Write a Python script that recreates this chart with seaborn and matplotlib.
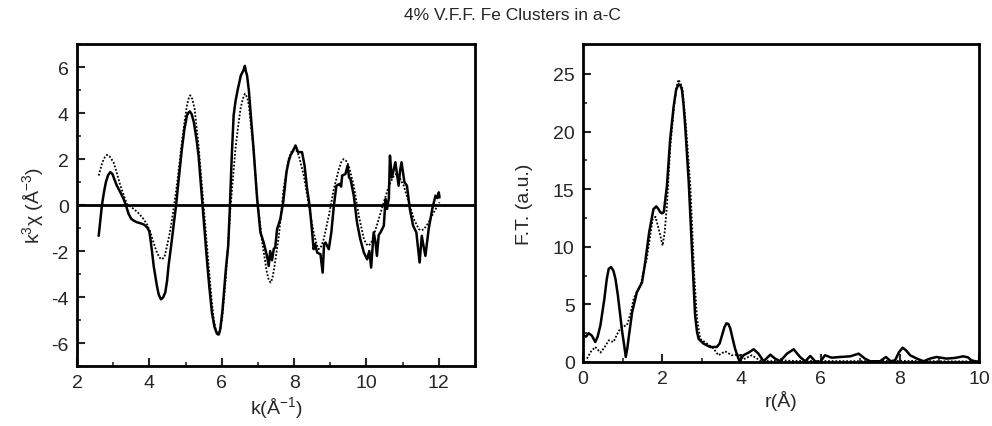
import numpy as np
import pandas as pd
import matplotlib
matplotlib.use("Agg")
import matplotlib.pyplot as plt
from matplotlib.ticker import MultipleLocator
import seaborn as sns

# left panel: k^3 chi(k), experiment (solid) and fit (dotted)
k_exp = [2.6, 2.65, 2.69, 2.75, 2.8, 2.86, 2.92, 2.98, 3.05, 3.1, 3.2, 3.29, 3.36, 3.43, 3.5, 3.57,
         3.66, 3.75, 3.85, 3.94, 4.0, 4.03, 4.08, 4.12, 4.17, 4.21, 4.26, 4.32, 4.38,
         4.44, 4.49, 4.53, 4.6, 4.67, 4.74, 4.82, 4.9, 4.97, 5.04, 5.08, 5.12, 5.17, 5.23, 5.3,
         5.36, 5.47, 5.59, 5.66, 5.73, 5.8, 5.87, 5.92, 5.96,
         6.02, 6.07, 6.12, 6.18, 6.22, 6.28, 6.33, 6.38, 6.44, 6.53, 6.6, 6.64, 6.67, 6.7, 6.75,
         6.79, 6.88, 6.98, 7.07, 7.16,
         7.25, 7.3, 7.34, 7.39, 7.44, 7.48, 7.53, 7.62, 7.7, 7.79, 7.85, 7.9, 7.97, 8.04, 8.11, 8.22,
         8.29, 8.36, 8.43, 8.5, 8.54, 8.58, 8.64, 8.73, 8.79, 8.83, 8.87, 8.96, 9.03, 9.1,
         9.17, 9.26, 9.3, 9.33, 9.42, 9.48, 9.52, 9.56, 9.65, 9.74, 9.83, 9.93, 10.02, 10.08,
         10.13, 10.2, 10.25, 10.29, 10.34, 10.39, 10.48, 10.53, 10.57, 10.62, 10.65, 10.7,
         10.74, 10.8, 10.85, 10.89, 10.93, 10.97, 11.05, 11.12, 11.2, 11.29, 11.38, 11.47,
         11.53, 11.58, 11.63, 11.72, 11.82, 11.91, 11.96, 12.0, 12.02]
chi_exp = [-1.34, -0.6, 0.0, 0.6, 1.0, 1.3, 1.43, 1.35, 1.05, 0.85, 0.55, 0.26, -0.05, -0.4, -0.6, -0.68,
           -0.75, -0.79, -0.85, -0.97, -1.15, -1.48, -2.1, -2.65, -3.15, -3.52, -3.9, -4.1, -4.02,
           -3.8, -3.3, -2.65, -1.8, -0.9, 0.0, 1.25, 2.44, 3.3, 3.9, 4.02, 4.07, 3.95, 3.6, 2.9,
           2.15, 0.0, -2.36, -3.6, -4.68, -5.3, -5.6, -5.63, -5.4,
           -4.6, -3.67, -2.7, -1.77, -0.3, 2.2, 3.9, 4.5, 5.0, 5.64, 5.85, 6.05, 5.8, 5.64, 5.0,
           4.19, 2.44, 0.26, -1.19, -1.63,
           -2.21, -2.65, -2.0, -2.4, -1.9, -1.85, -1.05, -0.61, 0.12, 1.43, 1.9, 2.15, 2.35, 2.59, 2.3, 2.3,
           1.72, 0.7, -0.03, -1.19, -1.92, -1.7, -2.07, -2.14, -2.94, -1.7, -1.63, -1.92, -1.19, -0.03,
           0.84, 0.92, 0.8, 1.28, 1.35, 1.72, 1.2, 1.13, 0.41, -0.76, -1.48, -2.07, -2.36, -2.0,
           -2.72, -1.19, -1.6, -2.21, -1.3, -1.19, -0.9, 0.26, -0.17, 0.3, 2.15, 1.2,
           1.43, 1.86, 1.3, 0.84, 1.5, 1.86, 0.99, 0.84, -0.17, -0.9, -1.19, -2.5,
           -1.34, -1.8, -2.21, -1.05, -0.17, 0.41, 0.3, 0.55, 0.33]

k_fit = [2.6, 2.7, 2.77, 2.83, 2.9, 3.01, 3.1, 3.2, 3.38, 3.57, 3.7, 3.84, 3.94, 4.03, 4.12, 4.21,
         4.29, 4.35, 4.42, 4.49, 4.56, 4.63, 4.76, 4.9, 4.97,
         5.04, 5.09, 5.13, 5.19, 5.25, 5.36, 5.5, 5.64, 5.72, 5.78, 5.84, 5.89, 5.95, 6.01, 6.08,
         6.15, 6.24, 6.38, 6.46, 6.52, 6.58, 6.64, 6.7,
         6.75, 6.87, 6.98, 7.12, 7.25, 7.3, 7.35, 7.4, 7.46, 7.58, 7.71, 7.85, 7.92, 7.99, 8.06,
         8.13, 8.27, 8.41, 8.54, 8.62, 8.68, 8.75, 8.82, 8.96, 9.1, 9.24, 9.31, 9.37, 9.44, 9.51,
         9.65, 9.79, 9.93, 10.0, 10.06, 10.13, 10.2, 10.34, 10.48, 10.62, 10.76, 10.83, 10.89,
         11.03, 11.17, 11.31, 11.45, 11.52, 11.59, 11.72, 11.86, 12.02]
chi_fit = [1.28, 1.85, 2.08, 2.18, 2.12, 1.86, 1.4, 0.84, 0.04, -0.17, -0.35, -0.61, -0.85, -1.19, -1.65, -2.07,
           -2.3, -2.36, -2.25, -1.77, -1.25, -0.61, 0.84, 2.73, 3.6,
           4.33, 4.65, 4.77, 4.6, 4.19, 2.59, -0.03, -2.65, -4.1, -4.97, -5.45, -5.63, -5.5, -4.97, -3.8,
           -2.36, -0.17, 2.44, 3.5, 4.19, 4.6, 4.84, 4.7,
           4.33, 2.59, 0.26, -1.63, -2.94, -3.25, -3.37, -3.2, -2.65, -1.34, 0.7, 2.0, 2.3, 2.44, 2.38,
           2.15, 1.28, -0.03, -1.19, -1.7, -1.92, -1.8, -1.48, -0.47, 0.7, 1.57, 1.88, 2.0, 1.92, 1.72,
           0.84, -0.47, -1.48, -1.7, -1.77, -1.65, -1.34, -0.61, 0.12, 0.84, 1.28, 1.35, 1.28,
           0.84, 0.12, -0.61, -1.05, -1.1, -1.05, -0.76, -0.32, 0.12]

# right panel: Fourier transform magnitude
r_exp = [0.02, 0.08, 0.14, 0.22, 0.31, 0.37, 0.44, 0.54, 0.6, 0.65, 0.71, 0.77, 0.82, 0.88, 0.94,
         0.99, 1.04, 1.08, 1.12, 1.15, 1.24, 1.36,
         1.49, 1.57, 1.67, 1.78, 1.85, 1.9, 1.95, 2.0, 2.04, 2.12, 2.2, 2.29, 2.35, 2.41, 2.46, 2.5,
         2.54, 2.58, 2.67, 2.77, 2.83, 2.88, 2.92, 3.04, 3.21, 3.38, 3.45, 3.51, 3.57, 3.62, 3.67,
         3.72, 3.78, 3.84, 3.95, 4.05, 4.18, 4.31,
         4.43, 4.56, 4.73, 4.85, 4.98, 5.15, 5.32, 5.48, 5.61, 5.74, 5.86, 5.99, 6.11, 6.28,
         6.49, 6.75, 6.96, 7.12, 7.25, 7.5, 7.65, 7.77, 7.88, 7.98, 8.07, 8.16, 8.26, 8.43, 8.6,
         8.76, 8.93, 9.18, 9.4, 9.6, 9.72, 9.81, 9.98]
ft_exp = [2.3, 2.2, 2.5, 2.3, 1.73, 2.2, 3.18, 5.49, 7.2, 8.09, 8.24, 7.9, 7.2, 5.8, 4.05,
          2.6, 1.45, 0.43, 1.2, 2.02, 4.3, 6.05,
          6.9, 8.64, 11.24, 13.27, 13.5, 13.3, 13.0, 12.9, 13.0, 15.3, 19.3, 22.2, 23.6, 24.1, 24.0, 23.6,
          22.3, 20.5, 15.6, 8.4, 4.05, 2.6, 2.0, 1.6, 1.3, 1.3, 1.6, 2.3, 3.0, 3.35, 3.3,
          2.9, 2.0, 1.15, 0.05, 0.58, 0.81, 1.1,
          0.72, 0.06, 0.63, 0.29, 0.06, 0.72, 1.1, 0.43, 0.06, 0.52, 0.06, 0.0, 0.58, 0.37,
          0.43, 0.49, 0.72, 0.29, 0.06, 0.06, 0.43, 0.06, 0.14, 0.85, 1.24, 1.0, 0.58, 0.29, 0.06,
          0.29, 0.43, 0.29, 0.35, 0.49, 0.4, 0.14, 0.0]

r_fit = [0.1, 0.2, 0.31, 0.44, 0.55, 0.65, 0.77, 0.86, 0.94, 1.02, 1.11, 1.2, 1.28, 1.45, 1.61,
         1.7, 1.76, 1.83, 1.93, 2.01, 2.06,
         2.12, 2.2, 2.3, 2.36, 2.41, 2.46, 2.51, 2.6, 2.71, 2.81, 2.88, 2.96, 3.13, 3.3, 3.42, 3.59, 3.76,
         3.93, 4.05, 4.26, 4.47, 4.73, 4.98, 5.32, 6.0, 7.0, 8.0, 9.0, 10.0]
ft_fit = [0.29, 0.9, 1.3, 0.81, 1.3, 1.88, 1.73, 2.4, 2.89, 3.1, 3.18, 4.2, 5.49, 6.65, 8.96,
          11.0, 12.4, 12.6, 11.3, 10.1, 11.2,
          13.6, 18.5, 22.2, 23.8, 24.5, 24.2, 23.7, 20.5, 15.3, 7.5, 3.75, 2.0, 1.6, 1.15, 0.58, 0.92, 0.58,
          0.63, 0.23, 0.58, 0.14, 0.06, 0.14, 0.09, 0.08, 0.07, 0.1, 0.06, 0.05]

title = "4% V.F.F. Fe Clusters in a-C"

sns.set_style("ticks")
plt.rcParams['font.family'] = ['Liberation Sans', 'DejaVu Sans']
plt.rcParams['mathtext.default'] = 'regular'
plt.rcParams['axes.unicode_minus'] = False

fig = plt.figure(figsize=(9.92, 4.27), dpi=100)
ax1 = fig.add_axes([0.0776, 0.1405, 0.4012, 0.754])
ax2 = fig.add_axes([0.5877, 0.150, 0.3992, 0.7447])

dots = (0, (1, 1))

sns.lineplot(x=k_exp, y=chi_exp, ax=ax1, color='black', lw=1.8, sort=False)
sns.lineplot(x=k_fit, y=chi_fit, ax=ax1, color='black', lw=1.3, ls=dots, sort=False)
ax1.axhline(0, color='black', lw=2)
ax1.set_xlim(2, 13)
ax1.set_ylim(-7, 7)
ax1.xaxis.set_major_locator(MultipleLocator(2))
ax1.xaxis.set_minor_locator(MultipleLocator(1))
ax1.yaxis.set_major_locator(MultipleLocator(2))
ax1.yaxis.set_minor_locator(MultipleLocator(1))
ax1.set_xlabel(r'k(Å$^{-1}$)', fontsize=14, labelpad=2)
ax1.set_ylabel(r'k$^3\chi$ (Å$^{-3}$)', fontsize=14, labelpad=4)

sns.lineplot(x=r_exp, y=ft_exp, ax=ax2, color='black', lw=1.8, sort=False)
sns.lineplot(x=r_fit, y=ft_fit, ax=ax2, color='black', lw=1.3, ls=dots, sort=False)
ax2.set_xlim(0, 10)
ax2.set_ylim(0, 27.6)
ax2.xaxis.set_major_locator(MultipleLocator(2))
ax2.xaxis.set_minor_locator(MultipleLocator(1))
ax2.yaxis.set_major_locator(MultipleLocator(5))
ax2.yaxis.set_minor_locator(MultipleLocator(2.5))
ax2.set_xlabel('r(Å)', fontsize=14, labelpad=2)
ax2.set_ylabel('F.T. (a.u.)', fontsize=14, labelpad=14)

for ax in (ax1, ax2):
    for sp in ax.spines.values():
        sp.set_linewidth(2)
        sp.set_color('black')
    ax.tick_params(which='major', direction='in', length=6, width=1.5, labelsize=14, pad=6)
    ax.tick_params(which='minor', direction='in', length=3, width=1.2)

fig.text(0.517, 0.963, title, ha='center', va='center', fontsize=12.5)

fig.savefig('out.png', dpi=100)
